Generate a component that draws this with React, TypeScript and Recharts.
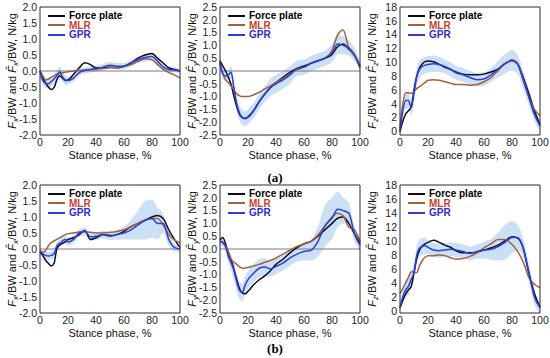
import React from 'react';
import { Area, ComposedChart, Line, ReferenceLine, XAxis, YAxis } from 'recharts';

// stance phase samples, %
const stance = [0, 2, 4, 6, 8, 10, 12, 14, 16, 18, 20, 24, 28, 32, 36, 40, 45, 50, 55, 60, 65, 70, 75, 80, 84, 88, 92, 96, 100];

// (a) Fx
const fxPlateA = [0, -0.2, -0.38, -0.5, -0.58, -0.52, -0.28, -0.15, -0.22, -0.3, -0.28, -0.1, 0.1, 0.26, 0.2, 0.1, 0.1, 0.12, 0.1, 0.15, 0.25, 0.4, 0.5, 0.55, 0.4, 0.25, 0.1, 0.05, 0.0];
const fxMlrA = [0, -0.15, -0.28, -0.25, -0.2, -0.15, -0.1, -0.08, -0.06, -0.04, -0.02, 0.0, 0.02, 0.03, 0.04, 0.05, 0.08, 0.1, 0.12, 0.15, 0.2, 0.3, 0.38, 0.35, 0.2, 0.05, -0.05, -0.12, -0.22];
const fxGprA = [0, -0.3, -0.38, -0.4, -0.33, -0.25, -0.15, -0.02, -0.18, -0.28, -0.3, -0.22, -0.05, 0.02, 0.05, 0.08, 0.12, 0.18, 0.15, 0.15, 0.25, 0.35, 0.42, 0.45, 0.3, 0.12, 0.05, 0.03, 0.0];
const fxSdA = [0.1, 0.12, 0.15, 0.15, 0.15, 0.15, 0.15, 0.15, 0.15, 0.15, 0.12, 0.1, 0.1, 0.1, 0.1, 0.1, 0.1, 0.1, 0.1, 0.1, 0.1, 0.1, 0.12, 0.12, 0.12, 0.1, 0.1, 0.08, 0.08];

// (a) Fy
const fyPlateA = [0.4, 0.2, 0.0, -0.25, -0.55, -1.0, -1.4, -1.7, -1.83, -1.85, -1.8, -1.55, -1.2, -0.9, -0.65, -0.45, -0.25, -0.05, 0.1, 0.2, 0.3, 0.4, 0.5, 0.65, 0.95, 1.05, 0.85, 0.6, 0.15];
const fyMlrA = [0.3, -0.1, -0.35, -0.45, -0.6, -0.75, -0.9, -0.97, -1.0, -1.0, -1.0, -0.93, -0.83, -0.7, -0.58, -0.45, -0.3, -0.1, 0.05, 0.15, 0.3, 0.4, 0.5, 0.8, 1.4, 1.6, 0.9, 0.6, 0.2];
const fyGprA = [0.35, -0.1, -0.2, -0.15, -0.05, -0.7, -1.3, -1.65, -1.82, -1.87, -1.78, -1.55, -1.2, -0.9, -0.65, -0.5, -0.35, -0.15, 0.1, 0.15, 0.3, 0.4, 0.5, 0.7, 1.05, 1.0, 0.9, 0.65, 0.2];
const fySdA = [0.2, 0.2, 0.2, 0.2, 0.25, 0.3, 0.3, 0.3, 0.3, 0.3, 0.3, 0.3, 0.3, 0.3, 0.35, 0.35, 0.35, 0.35, 0.3, 0.3, 0.3, 0.3, 0.3, 0.35, 0.4, 0.35, 0.3, 0.25, 0.2];

// (a) Fz
const fzPlateA = [0, 1.5, 2.5, 3.0, 3.5, 6.0, 8.0, 9.2, 9.8, 10.1, 10.2, 10.1, 9.7, 9.3, 9.0, 8.6, 8.3, 8.2, 8.2, 8.3, 8.6, 9.0, 9.8, 10.3, 9.8, 7.8, 5.5, 3.0, 1.0];
const fzMlrA = [0.5, 4.0, 5.6, 5.6, 5.5, 5.8, 6.2, 6.5, 6.8, 7.1, 7.4, 7.5, 7.4, 7.2, 7.0, 6.8, 6.8, 6.7, 6.8, 7.2, 7.8, 8.8, 9.8, 10.2, 9.8, 7.5, 5.0, 3.2, 2.3];
const fzGprA = [0, 3.0, 4.5, 4.5, 3.5, 5.5, 8.0, 9.0, 9.4, 9.6, 9.7, 9.8, 9.7, 9.4, 9.0, 8.5, 8.2, 7.8, 7.5, 7.6, 8.2, 9.0, 9.8, 10.3, 9.7, 7.5, 5.0, 2.5, 0.8];
const fzSdA = [0.5, 1, 1.2, 1.2, 1.2, 1.3, 1.3, 1.3, 1.2, 1.2, 1.2, 1.2, 1.1, 1.0, 1.0, 1.0, 1.0, 1.0, 1.0, 1.0, 1.0, 1.2, 1.4, 1.5, 1.4, 1.3, 1.2, 1.0, 0.8];

// (b) Fx
const fxPlateB = [-0.1, -0.2, -0.35, -0.45, -0.53, -0.45, 0.0, 0.12, 0.18, 0.22, 0.3, 0.35, 0.45, 0.58, 0.3, 0.35, 0.45, 0.42, 0.45, 0.55, 0.7, 0.8, 0.9, 1.0, 1.05, 0.95, 0.6, 0.3, 0.05];
const fxMlrB = [-0.1, -0.1, -0.05, 0.1, 0.2, 0.25, 0.3, 0.35, 0.4, 0.45, 0.48, 0.5, 0.53, 0.55, 0.52, 0.5, 0.5, 0.52, 0.55, 0.6, 0.7, 0.8, 0.9, 0.95, 0.95, 0.75, 0.45, 0.28, 0.2];
const fxGprB = [-0.05, -0.15, -0.2, -0.22, -0.2, -0.15, 0.1, 0.18, 0.25, 0.3, 0.22, 0.3, 0.5, 0.55, 0.38, 0.4, 0.45, 0.4, 0.45, 0.5, 0.6, 0.75, 0.9, 0.95, 0.8, 0.8, 0.3, 0.05, 0.0];
const fxSdB = [0.1, 0.1, 0.12, 0.12, 0.12, 0.12, 0.12, 0.12, 0.12, 0.12, 0.12, 0.12, 0.12, 0.12, 0.12, 0.12, 0.12, 0.12, 0.15, 0.2, 0.3, 0.45, 0.6, 0.6, 0.5, 0.3, 0.2, 0.12, 0.1];

// (b) Fy
const fyPlateB = [0.35, 0.45, 0.2, -0.2, -0.45, -0.8, -1.2, -1.55, -1.72, -1.75, -1.65, -1.4, -1.2, -1.05, -0.85, -0.6, -0.4, -0.15, 0.05, 0.2, 0.3, 0.5, 0.75, 1.0, 1.2, 1.25, 1.0, 0.6, 0.25];
const fyMlrB = [0.3, 0.25, 0.1, -0.1, -0.4, -0.52, -0.6, -0.7, -0.75, -0.74, -0.72, -0.66, -0.6, -0.52, -0.45, -0.35, -0.2, -0.05, 0.1, 0.2, 0.3, 0.55, 0.9, 1.25, 1.4, 1.3, 0.85, 0.75, 0.3];
const fyGprB = [0.3, 0.25, 0.1, -0.3, -0.55, -0.85, -1.3, -1.62, -1.7, -1.4, -1.2, -0.95, -0.75, -0.7, -0.78, -0.68, -0.55, -0.35, -0.2, -0.1, -0.05, 0.3, 0.9, 1.2, 1.55, 1.5, 1.4, 0.6, 0.15];
const fySdB = [0.15, 0.15, 0.2, 0.25, 0.3, 0.35, 0.35, 0.35, 0.35, 0.35, 0.35, 0.35, 0.35, 0.35, 0.3, 0.3, 0.3, 0.3, 0.3, 0.35, 0.4, 0.6, 0.8, 0.8, 0.7, 0.5, 0.4, 0.3, 0.2];

// (b) Fz
const fzPlateB = [0.5, 1.5, 2.4, 3.0, 3.5, 5.5, 7.5, 8.7, 9.3, 9.6, 9.8, 10.1, 9.8, 9.4, 9.1, 8.6, 8.3, 8.3, 8.4, 8.7, 9.0, 9.4, 10.0, 10.6, 10.4, 9.0, 5.5, 2.5, 0.5];
const fzMlrB = [2.5, 3.2, 4.0, 4.8, 5.6, 5.5, 5.5, 6.5, 7.2, 7.7, 7.9, 7.9, 8.0, 7.9, 7.6, 7.4, 7.5, 7.8, 8.3, 9.0, 9.6, 10.2, 10.2, 9.5, 8.5, 7.0, 4.8, 3.8, 3.3];
const fzGprB = [0.5, 2.0, 3.0, 3.5, 4.5, 5.5, 8.0, 9.0, 9.2, 9.3, 9.1, 8.7, 8.6, 8.7, 8.8, 8.7, 8.5, 8.2, 8.5, 8.7, 8.8, 9.2, 9.8, 10.5, 10.5, 9.0, 5.5, 2.0, 0.5];
const fzSdB = [0.5, 1, 1, 1.2, 1.2, 1.2, 1.2, 1.2, 1.2, 1.2, 1.0, 1.0, 1.0, 1.0, 1.0, 1.0, 1.0, 1.0, 1.0, 1.2, 1.5, 2.0, 2.5, 2.3, 1.8, 1.3, 1.2, 1.0, 0.8];

const xTicks = [0, 20, 40, 60, 80, 100];
const fxTicks = [-2, -1.5, -1, -0.5, 0, 0.5, 1, 1.5, 2];
const fyTicks = [-2.5, -2, -1.5, -1, -0.5, 0, 0.5, 1, 1.5, 2, 2.5];
const fzTicks = [0, 2, 4, 6, 8, 10, 12, 14, 16, 18];

const plateColor = '#0c0c1c';
const mlrColor = '#a3603c';
const gprColor = '#2f3ed6';
const bandColor = '#a9cbef';
const axisColor = '#2a2a2a';
const font = '"Liberation Sans", Arial, sans-serif';

const legendItems = [
  { name: 'Force plate', line: plateColor, text: '#000000' },
  { name: 'MLR', line: mlrColor, text: '#c8402c' },
  { name: 'GPR', line: gprColor, text: '#2b2bd0' },
];

function buildRows(plate: number[], mlr: number[], gpr: number[], sd: number[]) {
  return stance.map((s, i) => ({
    s,
    plate: plate[i],
    mlr: mlr[i],
    gpr: gpr[i],
    band: [gpr[i] - sd[i], gpr[i] + sd[i]],
  }));
}

const LegendBox = ({ left, top }: { left: number; top: number }) => (
  <div style={{ position: 'absolute', left, top, fontFamily: font, fontWeight: 700, fontSize: 10 }}>
    {legendItems.map((it) => (
      <div key={it.name} style={{ display: 'flex', alignItems: 'center', height: 9.6 }}>
        <span style={{ display: 'inline-block', width: 17, height: 2, background: it.line, marginRight: 4 }} />
        <span style={{ color: it.text, lineHeight: '9.6px' }}>{it.name}</span>
      </div>
    ))}
  </div>
);

function YTitle({ viewBox, axis }: any) {
  const cx = viewBox.x + 12;
  const cy = viewBox.y + viewBox.height / 2;
  return (
    <text
      x={cx}
      y={cy}
      transform={`rotate(-90 ${cx} ${cy})`}
      textAnchor="middle"
      dominantBaseline="central"
      fontSize={11}
      fontFamily={font}
      fill="#111"
    >
      <tspan fontStyle="italic">F</tspan>
      <tspan fontStyle="italic" fontSize={8} dy={3}>{axis}</tspan>
      <tspan dy={-3}>/BW and </tspan>
      <tspan fontStyle="italic">{'F\u0302'}</tspan>
      <tspan fontStyle="italic" fontSize={8} dy={3}>{axis}</tspan>
      <tspan dy={-3}>/BW, N/kg</tspan>
    </text>
  );
}

interface PanelProps {
  rows: ReturnType<typeof buildRows>;
  axis: string;
  domain: [number, number];
  ticks: number[];
  decimals: number;
  zero: boolean;
  left: number;
  top: number;
}

function Panel({ rows, axis, domain, ticks, decimals, zero, left, top }: PanelProps) {
  return (
    <div style={{ position: 'absolute', left, top, width: 195, height: 165 }}>
      <ComposedChart width={195} height={165} data={rows} margin={{ top: 7, right: 15, left: 0, bottom: 0 }}>
        <XAxis
          dataKey="s"
          type="number"
          domain={[0, 100]}
          ticks={xTicks}
          interval={0}
          height={30}
          tickSize={0}
          tickMargin={4}
          stroke={axisColor}
          tick={{ fontSize: 10.5, fill: '#222', fontFamily: font }}
          label={{ value: 'Stance phase, %', position: 'insideBottom', offset: 6, fontSize: 11, fill: '#111', fontFamily: font }}
        />
        <YAxis
          domain={domain}
          ticks={ticks}
          interval={0}
          width={40}
          tickSize={0}
          tickMargin={3}
          stroke={axisColor}
          tickFormatter={(v: number) => v.toFixed(decimals)}
          tick={{ fontSize: 10.5, fill: '#222', fontFamily: font }}
          label={{ content: (p: any) => <YTitle viewBox={p.viewBox} axis={axis} /> }}
        />
        <Area dataKey="band" fill={bandColor} fillOpacity={0.6} stroke="none" type="monotone" isAnimationActive={false} />
        {zero && <ReferenceLine y={0} stroke="#7a7a7a" strokeWidth={1} />}
        <Line dataKey="plate" stroke={plateColor} strokeWidth={1.5} dot={false} type="monotone" isAnimationActive={false} />
        <Line dataKey="mlr" stroke={mlrColor} strokeWidth={1.5} dot={false} type="monotone" isAnimationActive={false} />
        <Line dataKey="gpr" stroke={gprColor} strokeWidth={1.5} dot={false} type="monotone" isAnimationActive={false} />
        {/* box frame: top and right edges */}
        <ReferenceLine y={domain[1]} stroke={axisColor} strokeWidth={1} />
        <ReferenceLine x={100} stroke={axisColor} strokeWidth={1} />
      </ComposedChart>
      <LegendBox left={48} top={11} />
    </div>
  );
}

const panelLabel: React.CSSProperties = {
  position: 'absolute',
  left: 0,
  width: 550,
  textAlign: 'center',
  fontFamily: '"Liberation Serif", "Times New Roman", serif',
  fontWeight: 700,
  fontSize: 13,
};

export default function App() {
  return (
    <div style={{ position: 'absolute', left: 0, top: 0, width: 550, height: 358, background: '#fff' }}>
      <Panel rows={buildRows(fxPlateA, fxMlrA, fxGprA, fxSdA)} axis="x" domain={[-2, 2]} ticks={fxTicks} decimals={1} zero left={0} top={0} />
      <Panel rows={buildRows(fyPlateA, fyMlrA, fyGprA, fySdA)} axis="y" domain={[-2.5, 2.5]} ticks={fyTicks} decimals={1} zero left={180} top={0} />
      <Panel rows={buildRows(fzPlateA, fzMlrA, fzGprA, fzSdA)} axis="z" domain={[0, 18]} ticks={fzTicks} decimals={0} zero={false} left={360} top={0} />
      <div style={{ ...panelLabel, top: 170 }}>(a)</div>
      <Panel rows={buildRows(fxPlateB, fxMlrB, fxGprB, fxSdB)} axis="x" domain={[-2, 2]} ticks={fxTicks} decimals={1} zero left={0} top={178} />
      <Panel rows={buildRows(fyPlateB, fyMlrB, fyGprB, fySdB)} axis="y" domain={[-2.5, 2.5]} ticks={fyTicks} decimals={1} zero left={180} top={178} />
      <Panel rows={buildRows(fzPlateB, fzMlrB, fzGprB, fzSdB)} axis="z" domain={[0, 18]} ticks={fzTicks} decimals={0} zero={false} left={360} top={178} />
      <div style={{ ...panelLabel, top: 341 }}>(b)</div>
    </div>
  );
}
